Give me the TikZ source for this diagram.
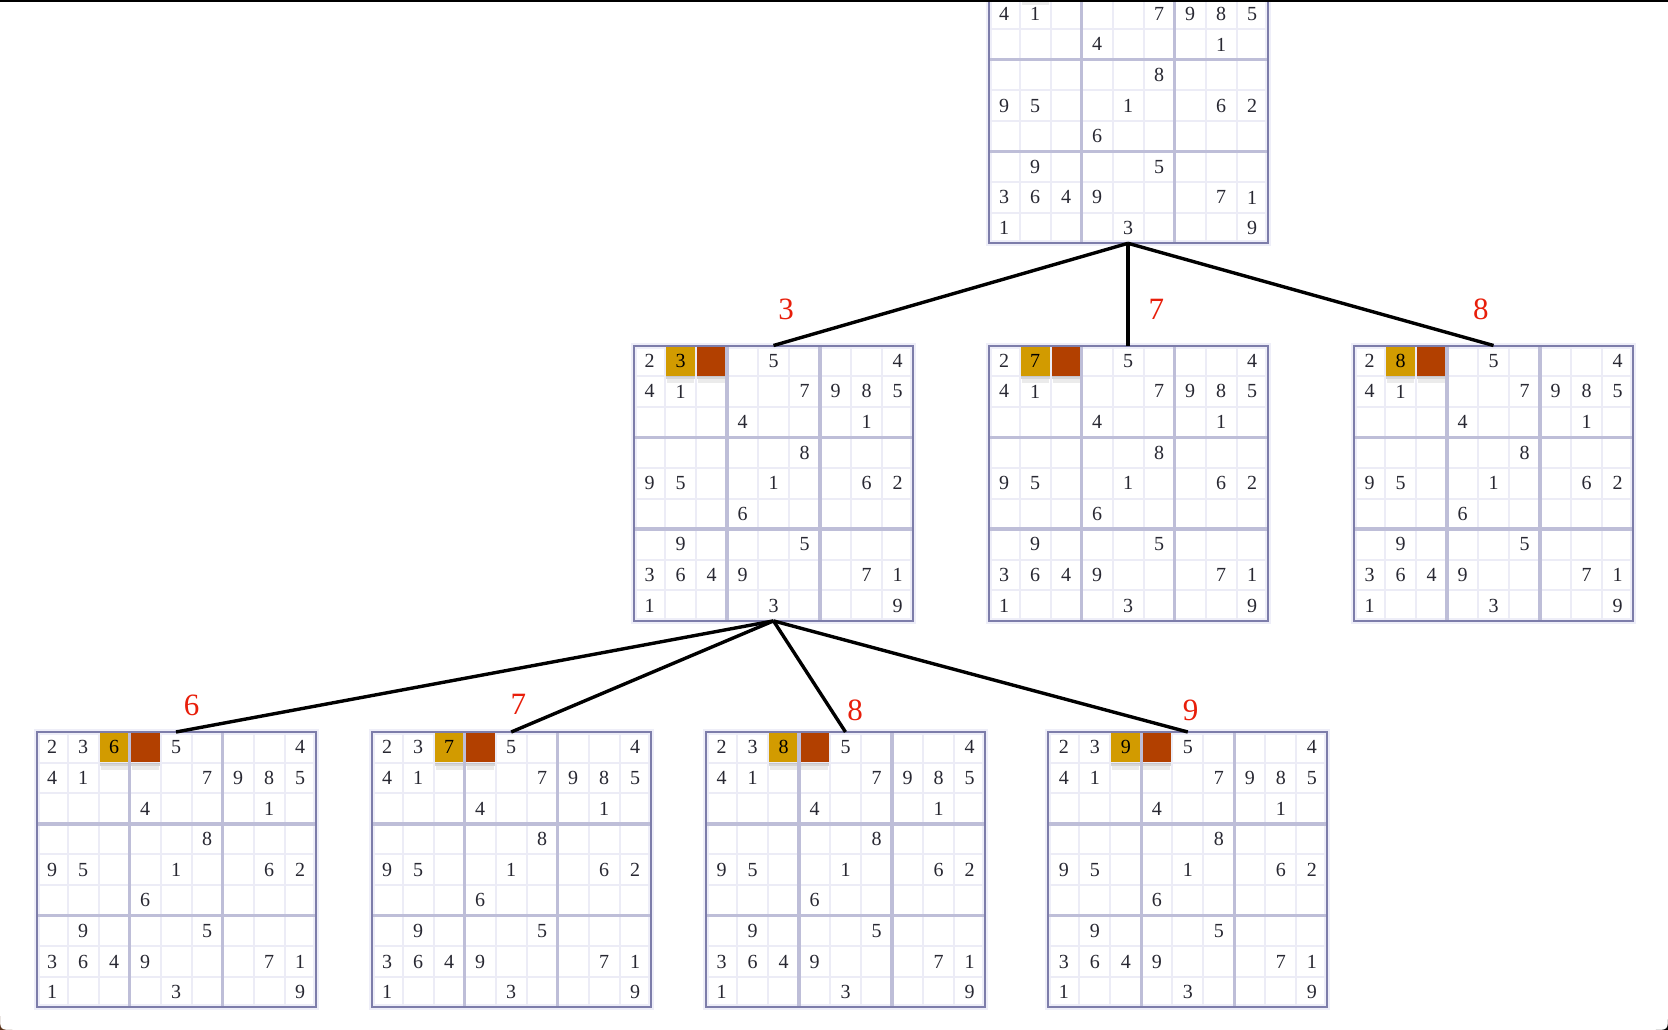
\documentclass[tikz,border=0pt]{standalone}
\usepackage{fontspec}
\setmainfont{Liberation Serif}
\definecolor{gridthin}{RGB}{236,236,246}
\definecolor{gridbox}{RGB}{190,190,216}
\definecolor{gridout}{RGB}{125,125,170}
\definecolor{gridhalo}{RGB}{238,238,248}
\definecolor{gold}{RGB}{210,155,0}
\definecolor{rust}{RGB}{178,64,0}
\definecolor{digit}{RGB}{40,40,50}
\definecolor{lbl}{RGB}{232,30,10}
\definecolor{cornerL}{RGB}{90,50,25}
\tikzset{
  boardframe/.style={draw=gridout, line width=2pt, minimum width=279pt, minimum height=275.4pt, inner sep=0pt, outer sep=0pt, anchor=north west},
  dig/.style={text=digit, font=\fontsize{20}{20}\selectfont, inner sep=0pt},
  edge/.style={draw=black, line width=3.4pt},
  lab/.style={text=lbl, font=\fontsize{31}{31}\selectfont, inner sep=0pt},
  thinline/.style={draw=gridthin, line width=2pt},
  boxline/.style={draw=gridbox, line width=3.5pt},
}
% highlighted cell: #1 board name, #2 column, #3 colour, #4 digit
\newcommand{\hcell}[4]{%
  \fill[black,opacity=0.16] ({(#2-1)*31+1},30.6) rectangle ({#2*31-1},33.6);
  \fill[black,opacity=0.08] ({(#2-1)*31+2},33.6) rectangle ({#2*31-2},37.5);
  \fill[#3] ({(#2-1)*31+1},0.5) rectangle ({#2*31-1},30.1);
  \node[dig,text=black] (#1-h#2) at ({(#2-0.5)*31},15.3) {#4};
}
% board: #1 name, #2 x, #3 y, #4 type, #5 chosen digit
\newcommand{\sboard}[5]{%
  \begin{scope}[shift={(#2,#3)}]
    \draw[gridhalo, line width=6pt, fill=white] (0,0) rectangle (279,275.4);
    \foreach \i in {1,2,4,5,7,8} {
      \draw[thinline] (\i*31,0) -- (\i*31,275.4);
      \draw[thinline] (0,\i*30.6) -- (279,\i*30.6);
    }
    \ifcase#4
      \fill[black,opacity=0.16] (32,30.6) rectangle (61,33.6);
      \fill[black,opacity=0.08] (33,33.6) rectangle (60,37.5);
    \or
      \hcell{#1}{2}{gold}{#5}
      \hcell{#1}{3}{rust}{}
    \or
      \hcell{#1}{3}{gold}{#5}
      \hcell{#1}{4}{rust}{}
    \fi
    \foreach \i in {3,6} {
      \draw[boxline] (\i*31,0) -- (\i*31,275.4);
      \draw[boxline] (0,\i*30.6) -- (279,\i*30.6);
    }
    \node[boardframe] (#1) at (0,0) {};
    \foreach \c/\r/\d in {
        1/2/4,2/2/1,6/2/7,7/2/9,8/2/8,9/2/5,
        4/3/4,8/3/1,
        6/4/8,
        1/5/9,2/5/5,5/5/1,8/5/6,9/5/2,
        4/6/6,
        2/7/9,6/7/5,
        1/8/3,2/8/6,3/8/4,4/8/9,8/8/7,9/8/1,
        1/9/1,5/9/3,9/9/9} {
      \node[dig] (#1-\c-\r) at ({(\c-0.5)*31},{(\r-0.5)*30.6}) {\d};
    }
    \ifnum#4>0
      \foreach \c/\d in {1/2,5/5,9/4} {
        \node[dig] (#1-\c-1) at ({(\c-0.5)*31},15.3) {\d};
      }
    \fi
    \ifnum#4=2
      \node[dig] (#1-2-1) at (46.5,15.3) {3};
    \fi
  \end{scope}
}
\begin{document}
\begin{tikzpicture}[x=1pt,y=-1pt]
  \useasboundingbox (0,0) rectangle (1668,1030);
  \clip (0,0) rectangle (1668,1030);
  \fill[white] (0,0) rectangle (1668,1030);

  % boards
  \sboard{b0}{988.5}{-32.1}{0}{}
  \sboard{m1}{634}{345.5}{1}{3}
  \sboard{m2}{988.5}{345.5}{1}{7}
  \sboard{m3}{1354}{345.5}{1}{8}
  \sboard{l1}{36.5}{732}{2}{6}
  \sboard{l2}{371.7}{732}{2}{7}
  \sboard{l3}{706}{732}{2}{8}
  \sboard{l4}{1048.3}{732}{2}{9}

  % connectors
  \draw[edge] (b0.south) -- (m1.north);
  \draw[edge] (b0.south) -- (m2.north);
  \draw[edge] (b0.south) -- (m3.north);
  \draw[edge] (m1.south) -- (l1.north);
  \draw[edge] (m1.south) -- (l2.north);
  \draw[edge] (m1.south) -- (l3.north);
  \draw[edge] (m1.south) -- (l4.north);

  % labels
  \node[lab] (t3) at (786,309.6) {3};
  \node[lab] (t7) at (1156.4,309.6) {7};
  \node[lab] (t8) at (1480.8,309.6) {8};
  \node[lab] (u6) at (191.7,705) {6};
  \node[lab] (u7) at (518.3,704) {7};
  \node[lab] (u8) at (855,710) {8};
  \node[lab] (u9) at (1190.7,710) {9};

  % window frame remnants
  \fill[black] (0,0) rectangle (1668,2);
  \fill[cornerL] (0,1016) .. controls (0,1030) .. (14,1030) -- (0,1030) -- cycle;
  \fill[black] (1668,1016) .. controls (1668,1030) .. (1654,1030) -- (1668,1030) -- cycle;
\end{tikzpicture}
\end{document}
